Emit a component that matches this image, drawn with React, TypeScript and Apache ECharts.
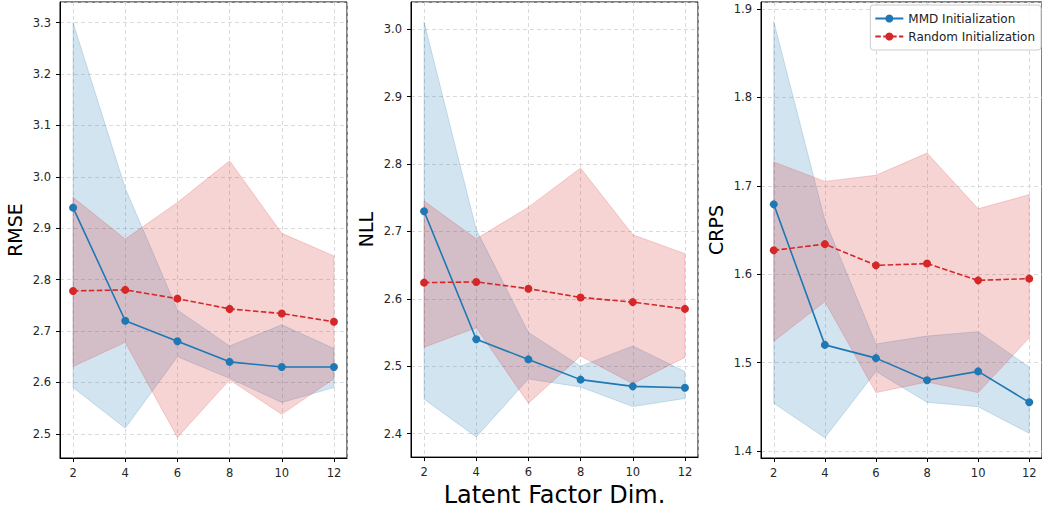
import React, { useEffect, useRef } from "react";
import * as echarts from "echarts";

const dims = [2, 4, 6, 8, 10, 12];

// RMSE
const rmseMmd = [2.94, 2.72, 2.68, 2.64, 2.63, 2.63];
const rmseMmdLow = [2.59, 2.511, 2.65, 2.608, 2.561, 2.59];
const rmseMmdHigh = [3.30, 2.978, 2.741, 2.671, 2.712, 2.666];
const rmseRnd = [2.778, 2.78, 2.763, 2.743, 2.734, 2.718];
const rmseRndLow = [2.631, 2.678, 2.493, 2.605, 2.538, 2.607];
const rmseRndHigh = [2.96, 2.879, 2.95, 3.031, 2.89, 2.846];

// NLL
const nllMmd = [2.73, 2.54, 2.51, 2.48, 2.47, 2.468];
const nllMmdLow = [2.451, 2.395, 2.481, 2.469, 2.44, 2.452];
const nllMmdHigh = [3.011, 2.703, 2.55, 2.50, 2.53, 2.492];
const nllRnd = [2.624, 2.625, 2.615, 2.602, 2.595, 2.585];
const nllRndLow = [2.528, 2.557, 2.445, 2.515, 2.474, 2.513];
const nllRndHigh = [2.745, 2.689, 2.736, 2.794, 2.695, 2.667];

// CRPS
const crpsMmd = [1.679, 1.52, 1.505, 1.48, 1.49, 1.455];
const crpsMmdLow = [1.454, 1.415, 1.49, 1.455, 1.45, 1.42];
const crpsMmdHigh = [1.886, 1.661, 1.521, 1.53, 1.535, 1.495];
const crpsRnd = [1.627, 1.634, 1.61, 1.612, 1.593, 1.595];
const crpsRndLow = [1.524, 1.569, 1.466, 1.478, 1.466, 1.528];
const crpsRndHigh = [1.727, 1.705, 1.712, 1.737, 1.674, 1.69];

const metricNames = ["RMSE", "NLL", "CRPS"];
const yLimits = [
  [2.453, 3.34],
  [2.365, 3.0405],
  [1.392, 1.908],
];
const xLimits = [1.5, 12.5];
const xTitle = "Latent Factor Dim.";
const mmdName = "MMD Initialization";
const rndName = "Random Initialization";

const BLUE = "#1f77b4";
const RED = "#d62728";
const FONT = "DejaVu Sans";

export default function App() {
  const ref = useRef<HTMLDivElement>(null);
  useEffect(() => {
    document.body.style.margin = "0";
    const chart = echarts.init(ref.current!, null, { renderer: "svg" });
    const panels = [
      { mmd: rmseMmd, mLo: rmseMmdLow, mHi: rmseMmdHigh, rnd: rmseRnd, rLo: rmseRndLow, rHi: rmseRndHigh },
      { mmd: nllMmd, mLo: nllMmdLow, mHi: nllMmdHigh, rnd: nllRnd, rLo: nllRndLow, rHi: nllRndHigh },
      { mmd: crpsMmd, mLo: crpsMmdLow, mHi: crpsMmdHigh, rnd: crpsRnd, rLo: crpsRndLow, rHi: crpsRndHigh },
    ];
    const lefts = [60, 411, 761];
    const grid = lefts.map((l) => ({
      left: l,
      top: 2,
      width: 287,
      height: 456,
      show: true,
      borderColor: "#000",
      borderWidth: 1,
      backgroundColor: "transparent",
    }));
    const splitLine = {
      show: true,
      lineStyle: { color: "#d0d0d0", type: [4, 3], width: 0.8 },
    };
    const xAxis = lefts.map((_, i) => ({
      type: "value",
      gridIndex: i,
      min: xLimits[0],
      max: xLimits[1],
      splitNumber: 5,
      axisLine: { show: true, lineStyle: { color: "#000", width: 1 } },
      axisTick: { show: true, length: 4, lineStyle: { color: "#000" } },
      axisLabel: {
        show: true,
        showMinLabel: false,
        showMaxLabel: false,
        margin: 9,
        color: "#262626",
        fontSize: 11.5,
        fontFamily: FONT,
      },
      splitLine,
      name: i === 1 ? xTitle : "",
      nameLocation: "middle",
      nameGap: 25,
      nameTextStyle: { fontSize: 24, fontFamily: FONT, color: "#000" },
    }));
    const yAxis = lefts.map((_, i) => ({
      type: "value",
      gridIndex: i,
      min: yLimits[i][0],
      max: yLimits[i][1],
      minInterval: 0.1,
      maxInterval: 0.1,
      axisLine: { show: true, lineStyle: { color: "#000", width: 1 } },
      axisTick: { show: true, length: 4, lineStyle: { color: "#000" } },
      axisLabel: {
        show: true,
        showMinLabel: false,
        showMaxLabel: false,
        margin: 9,
        color: "#262626",
        fontSize: 11.5,
        fontFamily: FONT,
        formatter: (v: number) => v.toFixed(1),
      },
      splitLine,
      name: metricNames[i],
      nameLocation: "middle",
      nameGap: 36,
      nameTextStyle: { fontSize: 19, fontFamily: FONT, color: "#000" },
    }));
    const series: any[] = [];
    const band = (i: number, lo: number[], hi: number[], rgb: string, id: string) => {
      series.push({
        type: "custom",
        name: id,
        coordinateSystem: "cartesian2d",
        xAxisIndex: i,
        yAxisIndex: i,
        silent: true,
        z: 1,
        clip: true,
        data: [[dims[0], lo[0]]],
        renderItem: (_params: any, api: any) => {
          const upper = dims.map((d, k) => api.coord([d, hi[k]]));
          const lower = dims.map((d, k) => api.coord([d, lo[k]])).reverse();
          return {
            type: "polygon",
            shape: { points: upper.concat(lower) },
            style: {
              fill: `rgba(${rgb},0.2)`,
              stroke: `rgba(${rgb},0.2)`,
              lineWidth: 1,
            },
          };
        },
      });
    };
    panels.forEach((p, i) => {
      band(i, p.mLo, p.mHi, "31,119,180", "mmdband" + i);
      band(i, p.rLo, p.rHi, "214,39,40", "rndband" + i);
    });
    panels.forEach((p, i) => {
      series.push({
        type: "line",
        name: mmdName,
        xAxisIndex: i,
        yAxisIndex: i,
        symbol: "circle",
        symbolSize: 8,
        z: 3,
        itemStyle: { color: BLUE },
        lineStyle: { color: BLUE, width: 1.6 },
        data: dims.map((d, k) => [d, p.mmd[k]]),
      });
      series.push({
        type: "line",
        name: rndName,
        xAxisIndex: i,
        yAxisIndex: i,
        symbol: "circle",
        symbolSize: 8,
        z: 3,
        itemStyle: { color: RED },
        lineStyle: { color: RED, width: 1.6, type: [5.5, 2.4] },
        data: dims.map((d, k) => [d, p.rnd[k]]),
      });
    });
    chart.setOption({
      animation: false,
      backgroundColor: "#fff",
      textStyle: { fontFamily: FONT },
      grid,
      xAxis,
      yAxis,
      legend: {
        data: [mmdName, rndName],
        orient: "vertical",
        right: 1,
        top: 5,
        itemWidth: 28,
        itemHeight: 10,
        itemGap: 5,
        padding: [7, 6, 7, 4],
        backgroundColor: "rgba(255,255,255,0.85)",
        borderColor: "#cccccc",
        borderWidth: 1,
        borderRadius: 3,
        textStyle: { fontSize: 12, fontFamily: FONT, color: "#222", lineHeight: 13 },
      },
      series,
    });
    return () => chart.dispose();
  }, []);
  return <div ref={ref} style={{ width: 1042, height: 512 }} />;
}
